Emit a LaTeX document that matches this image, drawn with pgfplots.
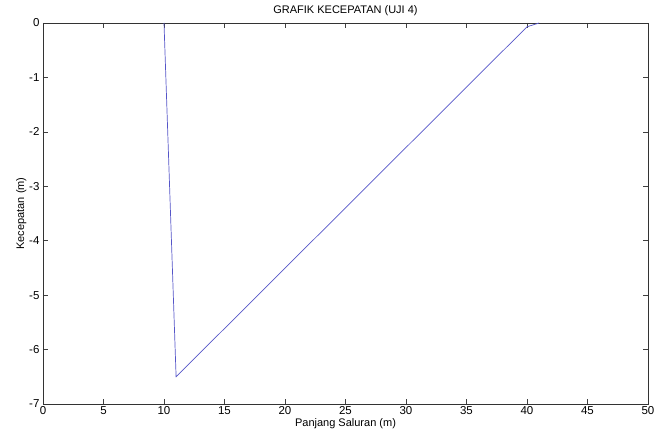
\documentclass[border=0pt]{standalone}
\usepackage{pgfplots}
\pgfplotsset{compat=1.18}
\usepackage{fontspec}
\setmainfont{Liberation Sans}
\definecolor{linec}{RGB}{85,85,200}
\begin{document}
\begin{tikzpicture}
\useasboundingbox (-43pt,-32pt) rectangle (611pt,404pt);
\begin{axis}[
  at={(0,0)}, anchor=south west,
  scale only axis, width=605pt, height=381pt,
  xmin=0, xmax=50, ymin=-7, ymax=0,
  xtick={0,5,...,50}, ytick={-7,-6,...,0},
  tick align=inside, major tick length=5pt,
  tick style={black!75, line width=0.6pt},
  axis line style={black!80, line width=0.6pt},
  /pgf/number format/assume math mode=true,
  tick label style={font=\fontsize{11.5}{13}\selectfont},
  title={GRAFIK KECEPATAN (UJI 4)},
  title style={font=\fontsize{11}{13}\selectfont, at={(0.5,1)}, yshift=-2pt},
  xlabel={Panjang Saluran (m)},
  ylabel={Kecepatan (m)},
  label style={font=\fontsize{11}{13}\selectfont},
  xlabel style={yshift=3pt},
  ylabel style={yshift=-4pt},
  xticklabel style={yshift=1pt},
]
\addplot[linec, line width=0.7pt] coordinates {
(10,0) (11,-6.5) (40,-0.07) (41,0)
};
\end{axis}
\end{tikzpicture}
\end{document}
